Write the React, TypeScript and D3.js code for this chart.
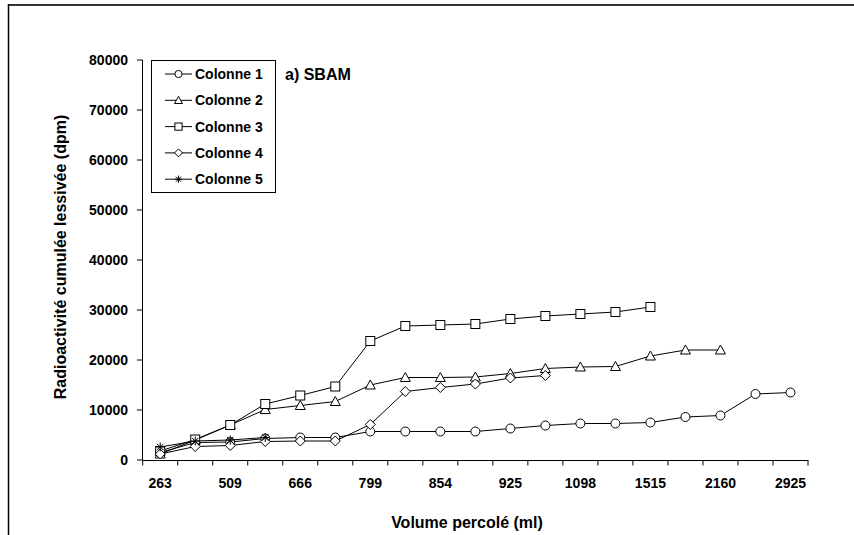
import React from "react";
import * as d3 from "d3";

const xLabels = ["263", "509", "666", "799", "854", "925", "1098", "1515", "2160", "2925"];
const nCategories = 19;
const yTicks = [0, 10000, 20000, 30000, 40000, 50000, 60000, 70000, 80000];

const seriesNames = ["Colonne 1", "Colonne 2", "Colonne 3", "Colonne 4", "Colonne 5"];
const colonne1 = [1500, 3500, 3600, 4300, 4500, 4500, 5700, 5700, 5700, 5700, 6300, 6900, 7300, 7300, 7500, 8600, 8900, 13200, 13500];
const colonne2 = [1200, 4000, 7000, 10100, 10900, 11700, 15000, 16500, 16500, 16600, 17300, 18300, 18600, 18700, 20800, 22000, 22000, null, null];
const colonne3 = [1800, 4100, 7000, 11200, 12900, 14700, 23800, 26800, 27000, 27200, 28200, 28800, 29200, 29600, 30600, null, null, null, null];
const colonne4 = [1200, 2700, 2900, 3700, 3800, 3800, 7100, 13700, 14500, 15200, 16400, 16900, null, null, null, null, null, null, null];
const colonne5 = [2600, 3800, 4000, 4500, null, null, null, null, null, null, null, null, null, null, null, null, null, null, null];
const seriesValues = [colonne1, colonne2, colonne3, colonne4, colonne5];
const markers = ["circle", "triangle", "square", "diamond", "star"];

const FONT = "'Liberation Sans', Arial, Helvetica, sans-serif";

function Marker({ type, x, y, s = 1 }: { type: string; x: number; y: number; s?: number }) {
  const common = { fill: "white", stroke: "black", strokeWidth: 1 };
  if (type === "circle") return <circle cx={x} cy={y} r={4.5 * s} {...common} />;
  if (type === "square") return <rect x={x - 4.5 * s} y={y - 4.5 * s} width={9 * s} height={9 * s} {...common} />;
  if (type === "triangle") {
    const h = 5 * s;
    return <path d={`M${x},${y - h} L${x + 5 * s},${y + 4 * s} L${x - 5 * s},${y + 4 * s} Z`} {...common} />;
  }
  if (type === "diamond") {
    const h = 5 * s;
    return <path d={`M${x},${y - h} L${x + h},${y} L${x},${y + h} L${x - h},${y} Z`} {...common} />;
  }
  const r = 4.5 * s;
  const d = r * 0.72;
  return (
    <path
      d={`M${x - r},${y} L${x + r},${y} M${x},${y - r} L${x},${y + r} M${x - d},${y - d} L${x + d},${y + d} M${x - d},${y + d} L${x + d},${y - d}`}
      stroke="black"
      strokeWidth={1}
      fill="none"
    />
  );
}

export default function App() {
  const x = d3
    .scaleBand<number>()
    .domain(d3.range(nCategories))
    .range([142.7, 808])
    .padding(0);
  const y = d3.scaleLinear().domain([0, 80000]).range([460, 60]);
  const cx = (i: number) => (x(i) as number) + x.bandwidth() / 2;

  const line = d3
    .line<number | null>()
    .defined((d) => d !== null)
    .x((_, i) => cx(i))
    .y((d) => y(d as number));

  const boundaries = d3.range(nCategories + 1).map((i) => 142.7 + i * x.bandwidth());

  return (
    <svg width={854} height={535} style={{ position: "absolute", left: 0, top: 0, background: "white" }} fontFamily={FONT}>
      <rect x={0} y={0} width={854} height={535} fill="white" />
      {/* outer frame */}
      <line x1={8} x2={854} y1={5} y2={5} stroke="#333" strokeWidth={2} />
      <line x1={8.5} x2={8.5} y1={4} y2={535} stroke="black" strokeWidth={1.5} />

      {/* y axis */}
      <line x1={142.5} x2={142.5} y1={60} y2={460} stroke="black" strokeWidth={1} />
      {yTicks.map((t) => (
        <g key={t}>
          <line x1={137} x2={142.5} y1={y(t)} y2={y(t)} stroke="black" />
          <text x={128} y={y(t)} textAnchor="end" dominantBaseline="central" fontSize={14} fontWeight="bold">
            {t}
          </text>
        </g>
      ))}

      {/* x axis */}
      <line x1={142.5} x2={808.5} y1={460.5} y2={460.5} stroke="black" strokeWidth={1} />
      {boundaries.map((b, i) => (
        <line key={i} x1={b} x2={b} y1={460.5} y2={465.5} stroke="black" />
      ))}
      {d3.range(nCategories).filter((i) => i % 2 === 0).map((i) => (
        <text key={i} x={cx(i)} y={483} textAnchor="middle" dominantBaseline="central" fontSize={14} fontWeight="bold">
          {xLabels[i / 2]}
        </text>
      ))}

      {/* axis titles */}
      <text x={467} y={522} textAnchor="middle" dominantBaseline="central" fontSize={16} fontWeight="bold">
        Volume percolé (ml)
      </text>
      <text
        transform="translate(60,257) rotate(-90)"
        textAnchor="middle"
        dominantBaseline="central"
        fontSize={16}
        fontWeight="bold"
      >
        Radioactivité cumulée lessivée (dpm)
      </text>

      {/* series */}
      {seriesValues.map((vals, si) => (
        <g key={si}>
          <path d={line(vals) || ""} fill="none" stroke="black" strokeWidth={1} />
          {vals.map((v, i) => (v === null ? null : <Marker key={i} type={markers[si]} x={cx(i)} y={y(v)} />))}
        </g>
      ))}

      {/* legend */}
      <rect x={151.5} y={60.5} width={124} height={132} fill="white" stroke="black" strokeWidth={1} />
      {seriesNames.map((n, i) => {
        const ly = 74 + i * 26.3;
        return (
          <g key={n}>
            <line x1={165} x2={192} y1={ly} y2={ly} stroke="black" />
            <Marker type={markers[i]} x={178.5} y={ly} s={0.8} />
            <text x={195} y={ly} dominantBaseline="central" fontSize={14} fontWeight="bold">
              {n}
            </text>
          </g>
        );
      })}
      <text x={285} y={74} dominantBaseline="central" fontSize={16} fontWeight="bold">
        a) SBAM
      </text>
    </svg>
  );
}
